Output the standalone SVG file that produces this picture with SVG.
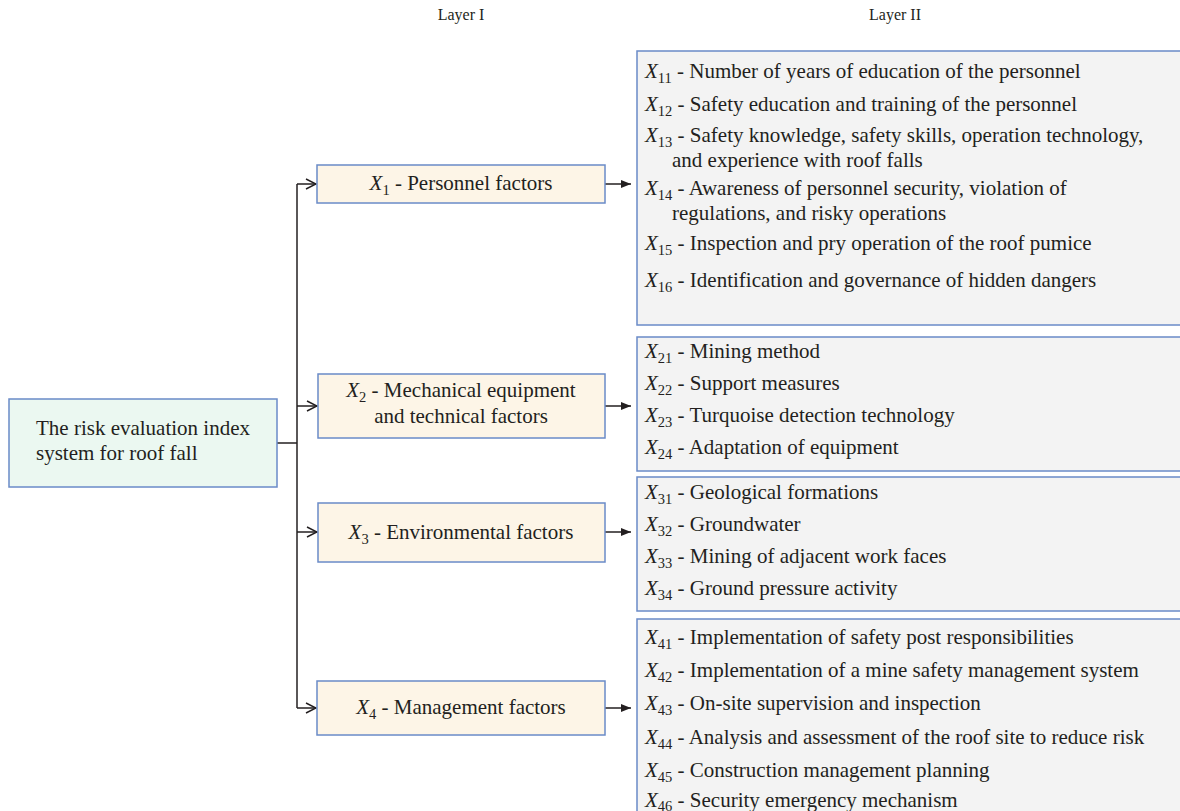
<svg xmlns="http://www.w3.org/2000/svg" width="1180" height="811" viewBox="0 0 1180 811">
<style>
text{font-family:"Liberation Serif","DejaVu Serif",serif;fill:#231f20;font-size:21px}
.hdr{font-size:16px}
.root{fill:#ebf8f1;stroke:#6a8bc8;stroke-width:1.5}
.l1{fill:#fdf5e7;stroke:#6a8bc8;stroke-width:1.5}
.l2{fill:#f3f3f3;stroke:#6a8bc8;stroke-width:1.5}
.ln{fill:none;stroke:#231f20;stroke-width:1.5}
.x{font-style:italic}
.s{font-size:14.5px}
</style>
<defs>
<marker id="open" markerWidth="12" markerHeight="12" refX="11" refY="6" orient="auto" markerUnits="userSpaceOnUse">
<path d="M1,1 L11,6 L1,11" fill="none" stroke="#231f20" stroke-width="1.5"/>
</marker>
<marker id="fill" markerWidth="12" markerHeight="10" refX="10" refY="5" orient="auto" markerUnits="userSpaceOnUse">
<path d="M0,1 L10,5 L0,9 Z" fill="#231f20"/>
</marker>
</defs>

<text class="hdr" x="461" y="20" text-anchor="middle">Layer I</text>
<text class="hdr" x="895" y="20" text-anchor="middle">Layer II</text>

<g id="connectors">
<path class="ln" d="M277,443 H297"/>
<path class="ln" d="M297,184 V708"/>
<path class="ln" d="M297,184 H316" marker-end="url(#open)"/>
<path class="ln" d="M297,406 H317" marker-end="url(#open)"/>
<path class="ln" d="M297,532 H317" marker-end="url(#open)"/>
<path class="ln" d="M297,708 H316" marker-end="url(#open)"/>
<path class="ln" d="M605,184 H631" marker-end="url(#fill)"/>
<path class="ln" d="M605,406 H631" marker-end="url(#fill)"/>
<path class="ln" d="M605,532 H631" marker-end="url(#fill)"/>
<path class="ln" d="M605,708 H631" marker-end="url(#fill)"/>
</g>

<g id="root">
<rect class="root" x="9" y="399" width="268" height="88"/>
<text x="36" y="435">The risk evaluation index</text>
<text x="36" y="460">system for roof fall</text>
</g>

<g id="x1">
<rect class="l1" x="317" y="165" width="288" height="38"/>
<text x="461" y="190" text-anchor="middle"><tspan class="x">X</tspan><tspan class="s" dy="5">1</tspan><tspan dy="-5"> - Personnel factors</tspan></text>
</g>
<g id="x2">
<rect class="l1" x="318" y="374" width="287" height="64"/>
<text x="461" y="397" text-anchor="middle"><tspan class="x">X</tspan><tspan class="s" dy="5">2</tspan><tspan dy="-5"> - Mechanical equipment</tspan></text>
<text x="461" y="423" text-anchor="middle">and technical factors</text>
</g>
<g id="x3">
<rect class="l1" x="318" y="503" width="287" height="59"/>
<text x="461" y="539" text-anchor="middle"><tspan class="x">X</tspan><tspan class="s" dy="5">3</tspan><tspan dy="-5"> - Environmental factors</tspan></text>
</g>
<g id="x4">
<rect class="l1" x="317" y="681" width="288" height="54"/>
<text x="461" y="714" text-anchor="middle"><tspan class="x">X</tspan><tspan class="s" dy="5">4</tspan><tspan dy="-5"> - Management factors</tspan></text>
</g>

<g id="x1-items">
<rect class="l2" x="637" y="51" width="560" height="274"/>
<text x="645" y="78"><tspan class="x">X</tspan><tspan class="s" dy="5">11</tspan><tspan dy="-5"> - Number of years of education of the personnel</tspan></text>
<text x="645" y="111"><tspan class="x">X</tspan><tspan class="s" dy="5">12</tspan><tspan dy="-5"> - Safety education and training of the personnel</tspan></text>
<text x="645" y="142"><tspan class="x">X</tspan><tspan class="s" dy="5">13</tspan><tspan dy="-5"> - Safety knowledge, safety skills, operation technology,</tspan></text>
<text x="672" y="167">and experience with roof falls</text>
<text x="645" y="195"><tspan class="x">X</tspan><tspan class="s" dy="5">14</tspan><tspan dy="-5"> - Awareness of personnel security, violation of</tspan></text>
<text x="672" y="220">regulations, and risky operations</text>
<text x="645" y="250"><tspan class="x">X</tspan><tspan class="s" dy="5">15</tspan><tspan dy="-5"> - Inspection and pry operation of the roof pumice</tspan></text>
<text x="645" y="287"><tspan class="x">X</tspan><tspan class="s" dy="5">16</tspan><tspan dy="-5"> - Identification and governance of hidden dangers</tspan></text>
</g>

<g id="x2-items">
<rect class="l2" x="637" y="337" width="560" height="134"/>
<text x="645" y="358"><tspan class="x">X</tspan><tspan class="s" dy="5">21</tspan><tspan dy="-5"> - Mining method</tspan></text>
<text x="645" y="390"><tspan class="x">X</tspan><tspan class="s" dy="5">22</tspan><tspan dy="-5"> - Support measures</tspan></text>
<text x="645" y="422"><tspan class="x">X</tspan><tspan class="s" dy="5">23</tspan><tspan dy="-5"> - Turquoise detection technology</tspan></text>
<text x="645" y="454"><tspan class="x">X</tspan><tspan class="s" dy="5">24</tspan><tspan dy="-5"> - Adaptation of equipment</tspan></text>
</g>

<g id="x3-items">
<rect class="l2" x="637" y="477" width="560" height="134"/>
<text x="645" y="499"><tspan class="x">X</tspan><tspan class="s" dy="5">31</tspan><tspan dy="-5"> - Geological formations</tspan></text>
<text x="645" y="531"><tspan class="x">X</tspan><tspan class="s" dy="5">32</tspan><tspan dy="-5"> - Groundwater</tspan></text>
<text x="645" y="563"><tspan class="x">X</tspan><tspan class="s" dy="5">33</tspan><tspan dy="-5"> - Mining of adjacent work faces</tspan></text>
<text x="645" y="595"><tspan class="x">X</tspan><tspan class="s" dy="5">34</tspan><tspan dy="-5"> - Ground pressure activity</tspan></text>
</g>

<g id="x4-items">
<rect class="l2" x="637" y="619" width="560" height="220"/>
<text x="645" y="644"><tspan class="x">X</tspan><tspan class="s" dy="5">41</tspan><tspan dy="-5"> - Implementation of safety post responsibilities</tspan></text>
<text x="645" y="677"><tspan class="x">X</tspan><tspan class="s" dy="5">42</tspan><tspan dy="-5"> - Implementation of a mine safety management system</tspan></text>
<text x="645" y="710"><tspan class="x">X</tspan><tspan class="s" dy="5">43</tspan><tspan dy="-5"> - On-site supervision and inspection</tspan></text>
<text x="645" y="744"><tspan class="x">X</tspan><tspan class="s" dy="5">44</tspan><tspan dy="-5"> - Analysis and assessment of the roof site to reduce risk</tspan></text>
<text x="645" y="777"><tspan class="x">X</tspan><tspan class="s" dy="5">45</tspan><tspan dy="-5"> - Construction management planning</tspan></text>
<text x="645" y="807"><tspan class="x">X</tspan><tspan class="s" dy="4">46</tspan><tspan dy="-4"> - Security emergency mechanism</tspan></text>
</g>
</svg>
